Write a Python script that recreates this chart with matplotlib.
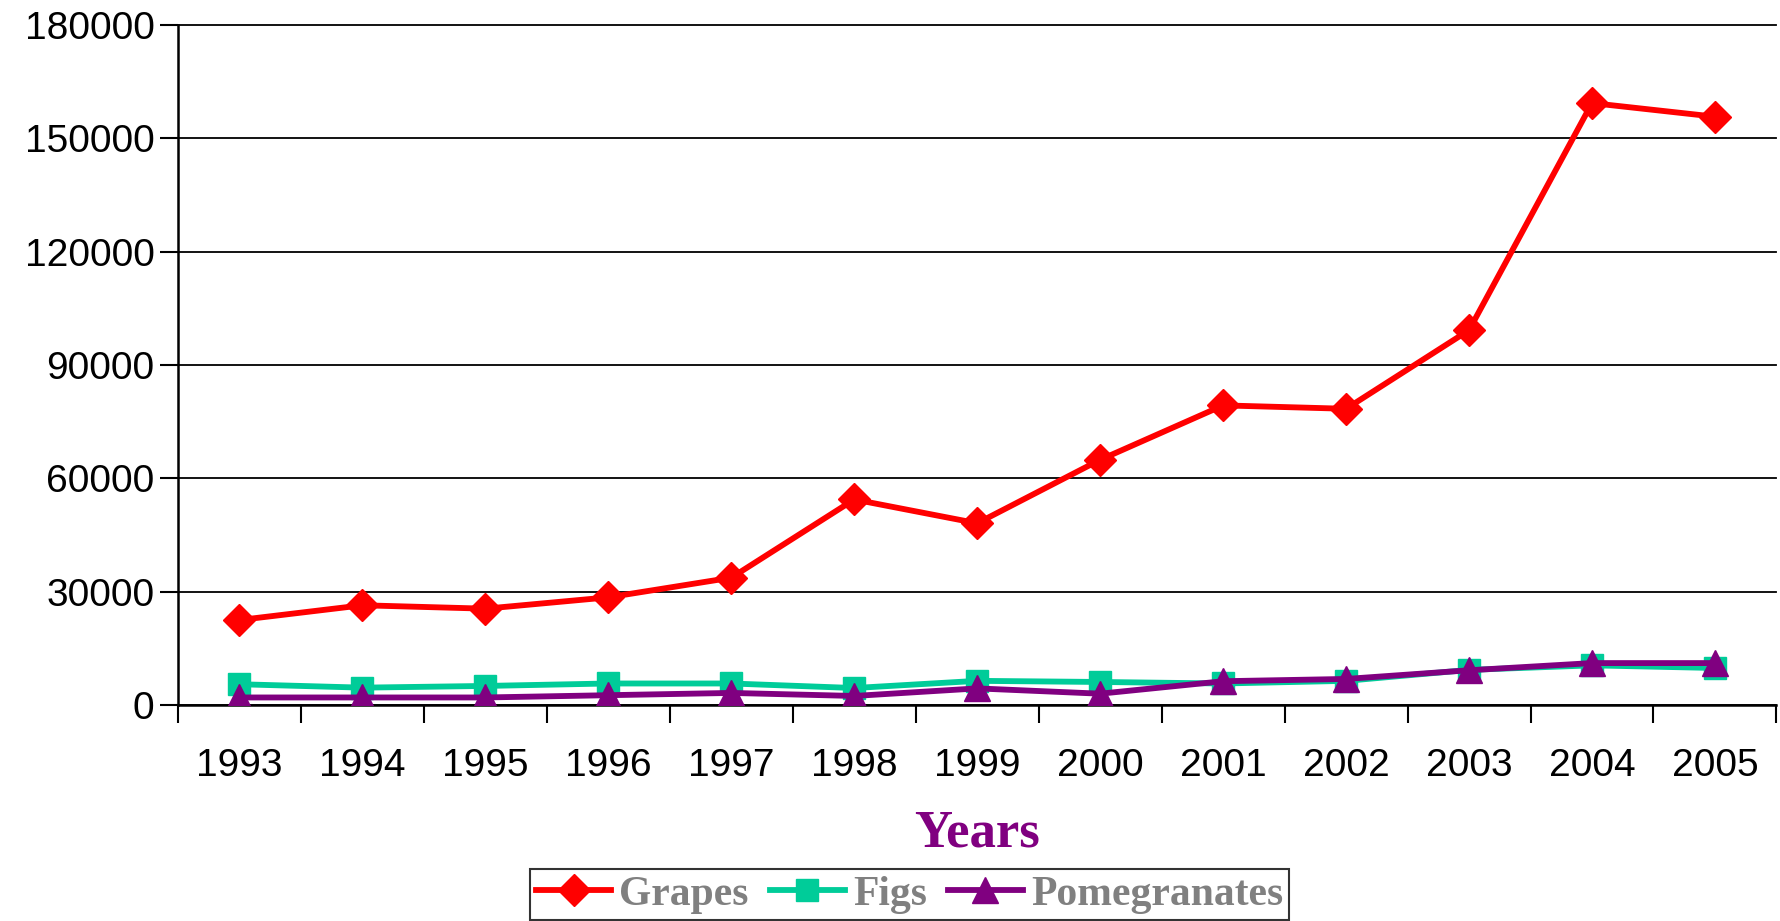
import matplotlib
matplotlib.use("Agg")
import matplotlib.pyplot as plt
import numpy as np

# data
years = ['1993', '1994', '1995', '1996', '1997', '1998', '1999',
         '2000', '2001', '2002', '2003', '2004', '2005']
grapes = [22500, 26400, 25500, 28500, 33700, 54400, 48100,
          64900, 79300, 78400, 99200, 159300, 155700]
figs = [5500, 4600, 5050, 5700, 5700, 4500, 6400,
        6100, 5700, 6400, 9300, 10500, 9800]
pomegranates = [2000, 2000, 2000, 2600, 3200, 2400, 4400,
                3000, 6300, 6900, 9200, 11100, 11100]
y_ticks = [0, 30000, 60000, 90000, 120000, 150000, 180000]

fig = plt.figure(figsize=(17.8, 9.21), dpi=100)
ax = fig.add_axes([0.1, 0.2345, 0.898, 0.7385])

x = np.arange(len(years))
ax.plot(x, grapes, color='#ff0000', lw=4.2, marker='D', ms=16,
        label='Grapes', zorder=3)
ax.plot(x, figs, color='#00cc99', lw=4.2, marker='s', ms=16,
        label='Figs', zorder=4)
ax.plot(x, pomegranates, color='#800080', lw=4.2, marker='^', ms=19,
        label='Pomegranates', zorder=5)

ax.set_xlim(-0.5, len(years) - 0.5)
ax.set_ylim(0, 180000)
ax.set_yticks(y_ticks)
ax.set_yticklabels([str(v) for v in y_ticks], fontsize=28,
                   family='Liberation Sans')
ax.yaxis.grid(True, color='black', lw=1.3)
ax.set_axisbelow(True)
for gl in ax.yaxis.get_gridlines():
    gl.set_clip_on(False)

ax.set_xticks(np.arange(len(years) + 1) - 0.5)
ax.set_xticklabels([])
ax.set_xticks(x, minor=True)
ax.set_xticklabels(years, minor=True, fontsize=28, family='Liberation Sans')
ax.tick_params(axis='x', which='minor', length=0, pad=31)
ax.tick_params(axis='x', which='major', length=13, width=1.5)
ax.tick_params(axis='y', length=13, width=1.5, pad=4)

for s in ['top', 'right']:
    ax.spines[s].set_visible(False)
ax.spines['left'].set_linewidth(1.8)
ax.spines['bottom'].set_linewidth(1.8)

ax.set_xlabel('Years', fontsize=38, fontweight='bold', color='#800080',
              family='Liberation Serif', labelpad=18)

leg = fig.legend(loc='upper center', bbox_to_anchor=(0.511, 0.056), ncol=3,
                 frameon=True, fancybox=False, edgecolor='black',
                 prop={'family': 'Liberation Serif', 'weight': 'bold', 'size': 30},
                 handlelength=1.8, handletextpad=0.2, columnspacing=0.5,
                 borderpad=0.15, borderaxespad=0)
leg.get_frame().set_linewidth(1.5)
for t in leg.get_texts():
    t.set_color('#808080')

fig.savefig('out.png', dpi=100)
